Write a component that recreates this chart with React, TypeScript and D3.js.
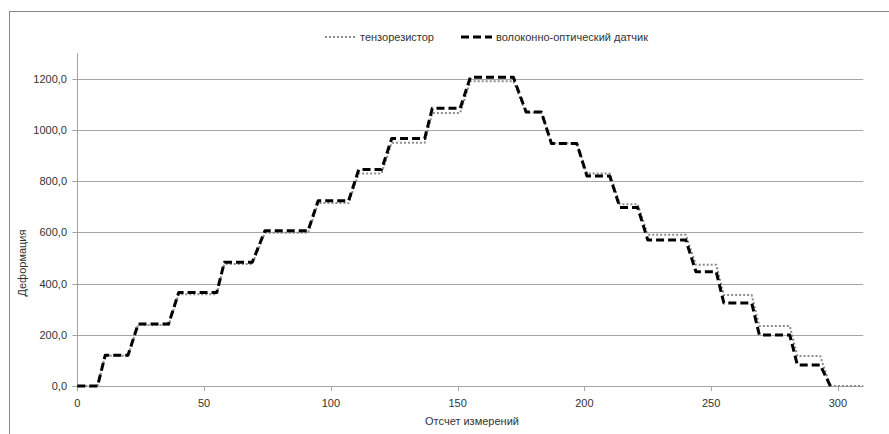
import React, { useEffect, useRef } from "react";
import * as d3 from "d3";

// corner points of the step curves (sample number, deformation)
const tensoX = [0, 8, 11, 20, 24, 36, 40, 55, 58, 69, 74, 91, 95, 107, 111, 120, 124, 137, 140, 151, 155, 172, 177, 183, 187, 197, 201, 210, 214, 221, 225, 240, 244, 252, 255, 266, 269, 281, 284, 293, 297, 310];
const tensoY = [0, 0, 118, 118, 238, 238, 358, 358, 476, 476, 598, 598, 714, 714, 830, 830, 950, 950, 1066, 1066, 1190, 1190, 1068, 1068, 948, 948, 830, 830, 710, 710, 590, 590, 473, 473, 355, 355, 234, 234, 117, 117, 0, 0];

const fiberX = [0, 8, 11, 20, 24, 36, 40, 55, 58, 69, 74, 91, 95, 107, 111, 120, 124, 137, 140, 151, 155, 172, 177, 183, 187, 197, 201, 210, 214, 221, 225, 240, 244, 252, 255, 266, 269, 281, 284, 293, 297];
const fiberY = [0, 0, 120, 120, 242, 242, 365, 365, 483, 483, 606, 606, 723, 723, 845, 845, 966, 966, 1084, 1084, 1205, 1205, 1070, 1070, 947, 947, 820, 820, 697, 697, 570, 570, 446, 446, 324, 324, 199, 199, 82, 82, 0];

const xTicks = [0, 50, 100, 150, 200, 250, 300];
const yTicks = [0, 200, 400, 600, 800, 1000, 1200];

const seriesNames = ["тензорезистор", "волоконно-оптический датчик"];

const FONT = "'Liberation Sans', Arial, sans-serif";

const App = () => {
  const svgRef = useRef<SVGSVGElement>(null);

  useEffect(() => {
    const svg = d3.select(svgRef.current);
    svg.selectAll("*").remove();

    const left = 77.3, right = 863.3, top = 53, bottom = 386;

    const x = d3.scaleLinear().domain([0, 310]).range([left, right]);
    const y = d3.scaleLinear().domain([0, 1300]).range([bottom, top]);

    // outer frame
    svg
      .append("rect")
      .attr("x", 9.5)
      .attr("y", 11.5)
      .attr("width", 900)
      .attr("height", 440)
      .attr("fill", "white")
      .attr("stroke", "#868686");

    // gridlines
    svg
      .append("g")
      .selectAll("line")
      .data(yTicks)
      .join("line")
      .attr("x1", left - 5)
      .attr("x2", right)
      .attr("y1", (d) => Math.round(y(d)) + 0.5)
      .attr("y2", (d) => Math.round(y(d)) + 0.5)
      .attr("stroke", "#a6a6a6");

    // y axis line
    svg
      .append("line")
      .attr("x1", Math.round(left) + 0.5)
      .attr("x2", Math.round(left) + 0.5)
      .attr("y1", top)
      .attr("y2", bottom)
      .attr("stroke", "#a6a6a6");

    // x tick marks
    svg
      .append("g")
      .selectAll("line")
      .data(xTicks)
      .join("line")
      .attr("x1", (d) => Math.round(x(d)) + 0.5)
      .attr("x2", (d) => Math.round(x(d)) + 0.5)
      .attr("y1", bottom)
      .attr("y2", bottom + 5)
      .attr("stroke", "#a6a6a6");

    // y labels
    svg
      .append("g")
      .selectAll("text")
      .data(yTicks)
      .join("text")
      .attr("x", 67)
      .attr("y", (d) => y(d) + 4)
      .attr("text-anchor", "end")
      .attr("font-family", FONT)
      .attr("font-size", 11)
      .attr("fill", "#333")
      .text((d) => d3.format(".1f")(d).replace(".", ","));

    // x labels
    svg
      .append("g")
      .selectAll("text")
      .data(xTicks)
      .join("text")
      .attr("x", (d) => x(d))
      .attr("y", 407)
      .attr("text-anchor", "middle")
      .attr("font-family", FONT)
      .attr("font-size", 11)
      .attr("fill", "#333")
      .text((d) => d);

    svg
      .append("text")
      .attr("x", 472)
      .attr("y", 425)
      .attr("text-anchor", "middle")
      .attr("font-family", FONT)
      .attr("font-size", 11)
      .attr("fill", "#333")
      .text("Отсчет измерений");

    svg
      .append("text")
      .attr("transform", "translate(26,263) rotate(-90)")
      .attr("text-anchor", "middle")
      .attr("font-family", FONT)
      .attr("font-size", 11)
      .attr("fill", "#333")
      .text("Деформация");

    const line = d3
      .line<[number, number]>()
      .x((d) => x(d[0]))
      .y((d) => y(d[1]));

    const tenso = tensoX.map((v, i) => [v, tensoY[i]] as [number, number]);
    const fiber = fiberX.map((v, i) => [v, fiberY[i]] as [number, number]);

    svg
      .append("path")
      .datum(tenso)
      .attr("fill", "none")
      .attr("stroke", "#8c8c8c")
      .attr("stroke-width", 2)
      .attr("stroke-dasharray", "2,2")
      .attr("stroke-linejoin", "round")
      .attr("d", line);

    svg
      .append("path")
      .datum(fiber)
      .attr("fill", "none")
      .attr("stroke", "#000")
      .attr("stroke-width", 3)
      .attr("stroke-dasharray", "8,4")
      .attr("stroke-linejoin", "round")
      .attr("d", line);

    // legend
    const lg = svg.append("g");
    lg.append("line")
      .attr("x1", 325).attr("x2", 355).attr("y1", 37).attr("y2", 37)
      .attr("stroke", "#8c8c8c").attr("stroke-width", 2).attr("stroke-dasharray", "2,2");
    lg.append("text")
      .attr("x", 360).attr("y", 41)
      .attr("font-family", FONT).attr("font-size", 11).attr("fill", "#333")
      .text(seriesNames[0]);
    lg.append("line")
      .attr("x1", 461).attr("x2", 492).attr("y1", 37).attr("y2", 37)
      .attr("stroke", "#000").attr("stroke-width", 3).attr("stroke-dasharray", "8,4");
    lg.append("text")
      .attr("x", 496).attr("y", 41)
      .attr("font-family", FONT).attr("font-size", 11).attr("fill", "#333")
      .text(seriesNames[1]);
  }, []);

  return (
    <svg
      ref={svgRef}
      width={889}
      height={434}
      style={{ position: "absolute", left: 0, top: 0, background: "white" }}
    ></svg>
  );
};

export default App;
